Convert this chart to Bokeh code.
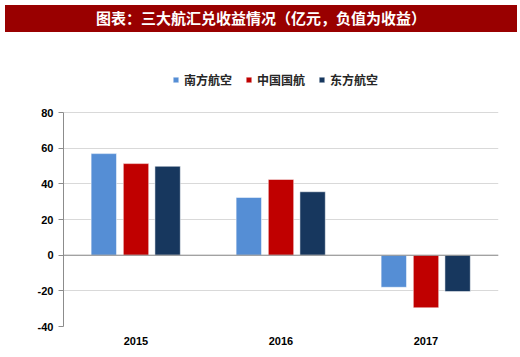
from bokeh.plotting import figure
from bokeh.layouts import column
from bokeh.models import (ColumnDataSource, FactorRange, Range1d, FixedTicker, Span,
                          Legend, LegendItem, Div)
from bokeh.transform import dodge
from bokeh.embed import file_html
from bokeh.resources import INLINE

# ---- data ----
years = ["2015", "2016", "2017"]
china_southern = [57.0, 32.4, -18.0]
air_china = [51.4, 42.5, -29.5]
china_eastern = [49.9, 35.6, -20.4]
series_names = ["南方航空", "中国国航", "东方航空"]
y_ticks = [-40, -20, 0, 20, 40, 60, 80]
y_tick_labels = ["-40", "-20", "0", "20", "40", "60", "80"]
title_text = "图表：三大航汇兑收益情况（亿元，负值为收益）"

colors = ["#558ED5", "#C00000", "#17375E"]
CJK = "Noto Sans CJK SC"

src = ColumnDataSource(dict(year=years, s=china_southern, a=air_china, e=china_eastern))

W = 512

# ---- title bar ----
tb = Div(text=title_text, width=W, height=27,
         styles={"background-color": "#990000", "color": "white", "text-align": "center",
                 "font-size": "15px", "font-weight": "bold", "font-family": CJK,
                 "line-height": "25px"})

# ---- main chart ----
p = figure(width=W, height=314, toolbar_location=None, output_backend="svg",
           x_range=FactorRange(*years), y_range=Range1d(-40, 107),
           min_border_left=63, min_border_right=W - 498, min_border_top=27, min_border_bottom=25,
           outline_line_color=None)

fields = ["s", "a", "e"]
offsets = [-0.222, 0.0, 0.218]
renderers = []
for f, off, c in zip(fields, offsets, colors):
    r = p.vbar(x=dodge("year", off, range=p.x_range), top=f, width=0.175, source=src,
               fill_color=c, line_color="white", line_alpha=0.5, line_width=1)
    renderers.append(r)

p.add_layout(Span(location=0, dimension="width", line_color="#8C8C8C", line_width=1))

p.yaxis.ticker = FixedTicker(ticks=y_ticks)
p.yaxis.major_label_overrides = dict(zip(y_ticks, y_tick_labels))
p.yaxis.bounds = (-40, 80)
p.ygrid.grid_line_color = "#D9D9D9"
p.xgrid.grid_line_color = None
p.yaxis.axis_line_color = "#8C8C8C"
p.yaxis.major_tick_line_color = "#8C8C8C"
p.yaxis.major_tick_in = 0
p.yaxis.major_tick_out = 5
p.yaxis.minor_tick_line_color = None
p.yaxis.major_label_standoff = 5
p.xaxis.axis_line_color = None
p.xaxis.major_tick_line_color = None
p.xaxis.minor_tick_line_color = None
p.xaxis.major_label_standoff = 4
for ax in (p.xaxis, p.yaxis):
    ax.major_label_text_font = "Liberation Sans"
    ax.major_label_text_font_style = "bold"
    ax.major_label_text_font_size = "11px"
    ax.major_label_text_color = "#000000"

legend = Legend(items=[LegendItem(label=n, renderers=[r]) for n, r in zip(series_names, renderers)],
                orientation="horizontal", location=(109, 238),
                glyph_width=7, glyph_height=7, label_height=12, label_standoff=5,
                spacing=13, padding=0, margin=0,
                border_line_color=None, background_fill_alpha=0,
                label_text_font=CJK, label_text_font_size="12px",
                label_text_font_style="bold", label_text_color="#262626")
p.add_layout(legend)

layout = column(tb, p, spacing=0)
open("out.html", "w").write(file_html(layout, INLINE))
